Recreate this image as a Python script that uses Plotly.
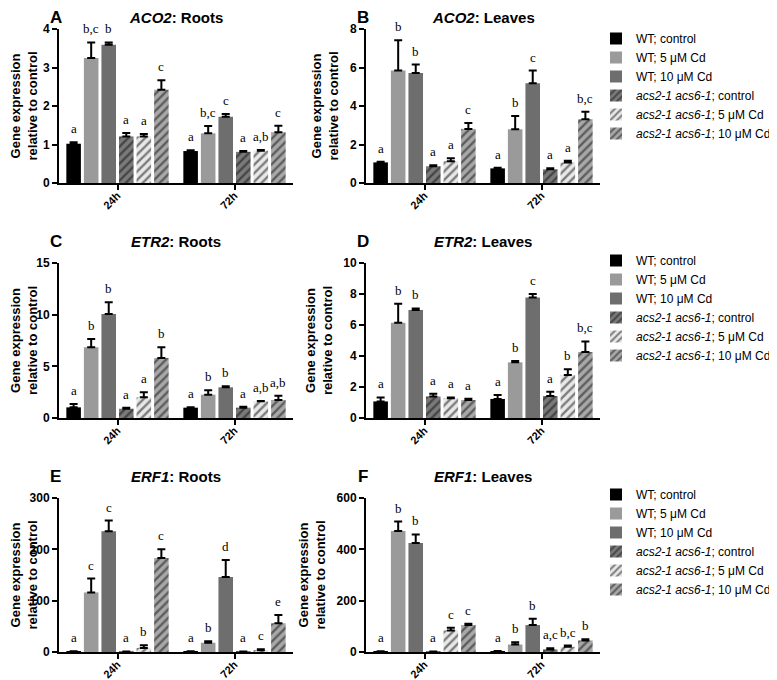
import plotly.graph_objects as go

times = ["24h", "72h"]
series_names = ["WT; control", "WT; 5 μM Cd", "WT; 10 μM Cd",
                "<i>acs2-1 acs6-1</i>; control", "<i>acs2-1 acs6-1</i>; 5 μM Cd",
                "<i>acs2-1 acs6-1</i>; 10 μM Cd"]

# ---- data: per series [24h, 72h] ----
A_mean = [[1.02, 0.83], [3.25, 1.29], [3.59, 1.72], [1.21, 0.81], [1.21, 0.84], [2.42, 1.32]]
A_err = [[0.04, 0.02], [0.40, 0.19], [0.06, 0.07], [0.09, 0.02], [0.06, 0.02], [0.25, 0.17]]
A_let = [["a", "a"], ["b,c", "b,c"], ["b", "c"], ["a", "a"], ["a", "a,b"], ["c", "c"]]

B_mean = [[1.07, 0.76], [5.85, 2.79], [5.71, 5.18], [0.87, 0.71], [1.13, 1.06], [2.81, 3.31]]
B_err = [[0.03, 0.03], [1.56, 0.69], [0.44, 0.66], [0.05, 0.05], [0.15, 0.10], [0.31, 0.39]]
B_let = [["a", "a"], ["b", "b"], ["b", "c"], ["a", "a"], ["a", "a"], ["c", "b,c"]]

C_mean = [[1.03, 1.0], [6.84, 2.26], [10.06, 2.97], [0.9, 1.0], [2.0, 1.61], [5.81, 1.74]]
C_err = [[0.32, 0.05], [0.81, 0.42], [1.13, 0.10], [0.1, 0.1], [0.48, 0.04], [1.03, 0.42]]
C_let = [["a", "a"], ["b", "b"], ["b", "b"], ["a", "a"], ["a", "a,b"], ["b", "a,b"]]

D_mean = [[1.07, 1.23], [6.15, 3.59], [6.96, 7.78], [1.39, 1.42], [1.28, 2.77], [1.16, 4.26]]
D_err = [[0.26, 0.25], [1.22, 0.09], [0.11, 0.22], [0.17, 0.28], [0.05, 0.37], [0.08, 0.68]]
D_let = [["a", "a"], ["b", "b"], ["b", "c"], ["a", "a"], ["a", "b"], ["a", "b,c"]]

E_mean = [[1.0, 1.0], [116, 18], [235, 146], [0.8, 0.8], [8, 3.3], [183, 56]]
E_err = [[0.5, 0.5], [27, 3], [21, 33], [0.3, 0.3], [5, 1.9], [17, 16]]
E_let = [["a", "a"], ["c", "b"], ["c", "d"], ["a", "a"], ["b", "c"], ["c", "e"]]

F_mean = [[2, 3], [471, 29], [425, 105], [1.5, 10], [84, 20], [105, 45]]
F_err = [[0.5, 1], [37, 9], [33, 25], [0.5, 5], [10, 5], [5, 5]]
F_let = [["a", "a"], ["b", "b"], ["b", "b"], ["a", "a,c"], ["c", "b,c"], ["c", "b"]]

panel_letters = ["A", "B", "C", "D", "E", "F"]
panel_titles = ["<i>ACO2</i>: Roots", "<i>ACO2</i>: Leaves", "<i>ETR2</i>: Roots",
                "<i>ETR2</i>: Leaves", "<i>ERF1</i>: Roots", "<i>ERF1</i>: Leaves"]
y_max = [4, 8, 15, 10, 300, 600]
y_dtick = [1, 2, 5, 2, 100, 200]

# ---- styles ----
OFF = 8  # page body margin
W, H = 777 - OFF, 680 - OFF
solid_colors = ["#000000", "#9a9a9a", "#6e6e6e"]
hatch_bg = ["#7a7a7a", "#e8e8e8", "#a8a8a8"]
BARGAP = 0.1
NS = 6

def px_x(v):
    return (v - OFF) / W

def px_y(v):
    return 1 - (v - OFF) / H

col_dom = [[px_x(59), px_x(293)], [px_x(366), px_x(600)]]
row_px = [(29, 183), (263, 418), (498, 652)]
row_dom = [[px_y(b), px_y(t)] for t, b in row_px]
title_y_px = [18, 241, 476]
legend_top_px = [24, 246, 480]

means = [A_mean, B_mean, C_mean, D_mean, E_mean, F_mean]
errs = [A_err, B_err, C_err, D_err, E_err, F_err]
lets = [A_let, B_let, C_let, D_let, E_let, F_let]

fig = go.Figure()
annotations = []
sans = "Liberation Sans, Arial, sans-serif"
serif = "Liberation Serif, Times New Roman, serif"

xs = list(range(len(times)))
for p in range(6):
    r, c = divmod(p, 2)
    ax = "" if p == 0 else str(p + 1)
    legend_name = "legend" if r == 0 else "legend%d" % (r + 1)
    for j in range(NS):
        if j < 3:
            marker = dict(color=solid_colors[j], line=dict(width=0))
        else:
            marker = dict(color=hatch_bg[j - 3], line=dict(width=0),
                          pattern=dict(shape="/", fgcolor="#111111", bgcolor=hatch_bg[j - 3],
                                       size=6, solidity=0.4))
        fig.add_trace(go.Bar(
            x=xs, y=means[p][j], name=series_names[j], marker=marker,
            error_y=dict(type="data", array=errs[p][j], arrayminus=[0] * len(xs),
                         symmetric=False, color="black", thickness=2, width=4),
            xaxis="x" + ax, yaxis="y" + ax, legend=legend_name,
            showlegend=(c == 0), legendgroup=str(j) + legend_name,
        ))
        slot = (1 - BARGAP) / NS
        for t in xs:
            annotations.append(dict(
                x=t + (j - (NS - 1) / 2) * slot, y=means[p][j][t] + errs[p][j][t],
                xref="x" + ax, yref="y" + ax, text=lets[p][j][t], showarrow=False,
                xanchor="center", yanchor="bottom", yshift=4,
                font=dict(family=serif, size=13, color="black")))
    # axes
    fig.layout["xaxis" + ax] = dict(
        domain=col_dom[c], anchor="y" + ax, range=[-0.5, len(times) - 0.5],
        tickvals=xs, ticktext=times, tickangle=-45, showline=True, linecolor="black",
        linewidth=2, ticks="outside", ticklen=5, tickwidth=2, tickcolor="black",
        showgrid=False, zeroline=False, ticklabelstandoff=-5,
        tickfont=dict(family=sans, size=11, color="black", weight="bold"))
    fig.layout["yaxis" + ax] = dict(
        domain=row_dom[r], anchor="x" + ax, range=[0, y_max[p]], dtick=y_dtick[p],
        showline=True, linecolor="black", linewidth=2, ticks="outside", ticklen=5,
        tickwidth=2, tickcolor="black", showgrid=False, zeroline=False,
        tickfont=dict(family=sans, size=12, color="black", weight="bold"),
        title=dict(text="<b>Gene expression<br>relative to control</b>", standoff=8,
                   font=dict(family=sans, size=13, color="black")))
    # panel titles
    cx = (col_dom[c][0] + col_dom[c][1]) / 2
    ty = px_y(title_y_px[r])
    annotations.append(dict(x=cx, y=ty, xref="paper", yref="paper", showarrow=False,
                            text="<b>" + panel_titles[p] + "</b>", xanchor="center",
                            yanchor="middle", font=dict(family=sans, size=15, color="black")))
    annotations.append(dict(x=col_dom[c][0] - 3 / W, y=ty, xref="paper", yref="paper",
                            showarrow=False, text="<b>" + panel_letters[p] + "</b>",
                            xanchor="center", yanchor="middle",
                            font=dict(family=sans, size=17, color="black")))

legend_style = dict(x=px_x(596), xanchor="left", yanchor="top", bgcolor="rgba(0,0,0,0)",
                    font=dict(family=sans, size=12, color="black"), tracegroupgap=0,
                    traceorder="normal")
fig.update_layout(
    width=W, height=H, margin=dict(l=0, r=0, t=0, b=0, autoexpand=False),
    paper_bgcolor="white", plot_bgcolor="white",
    barmode="group", bargap=BARGAP, bargroupgap=0.17,
    annotations=annotations,
    legend=dict(y=px_y(legend_top_px[0]), **legend_style),
    legend2=dict(y=px_y(legend_top_px[1]), **legend_style),
    legend3=dict(y=px_y(legend_top_px[2]), **legend_style),
)

fig.write_html("out.html")
